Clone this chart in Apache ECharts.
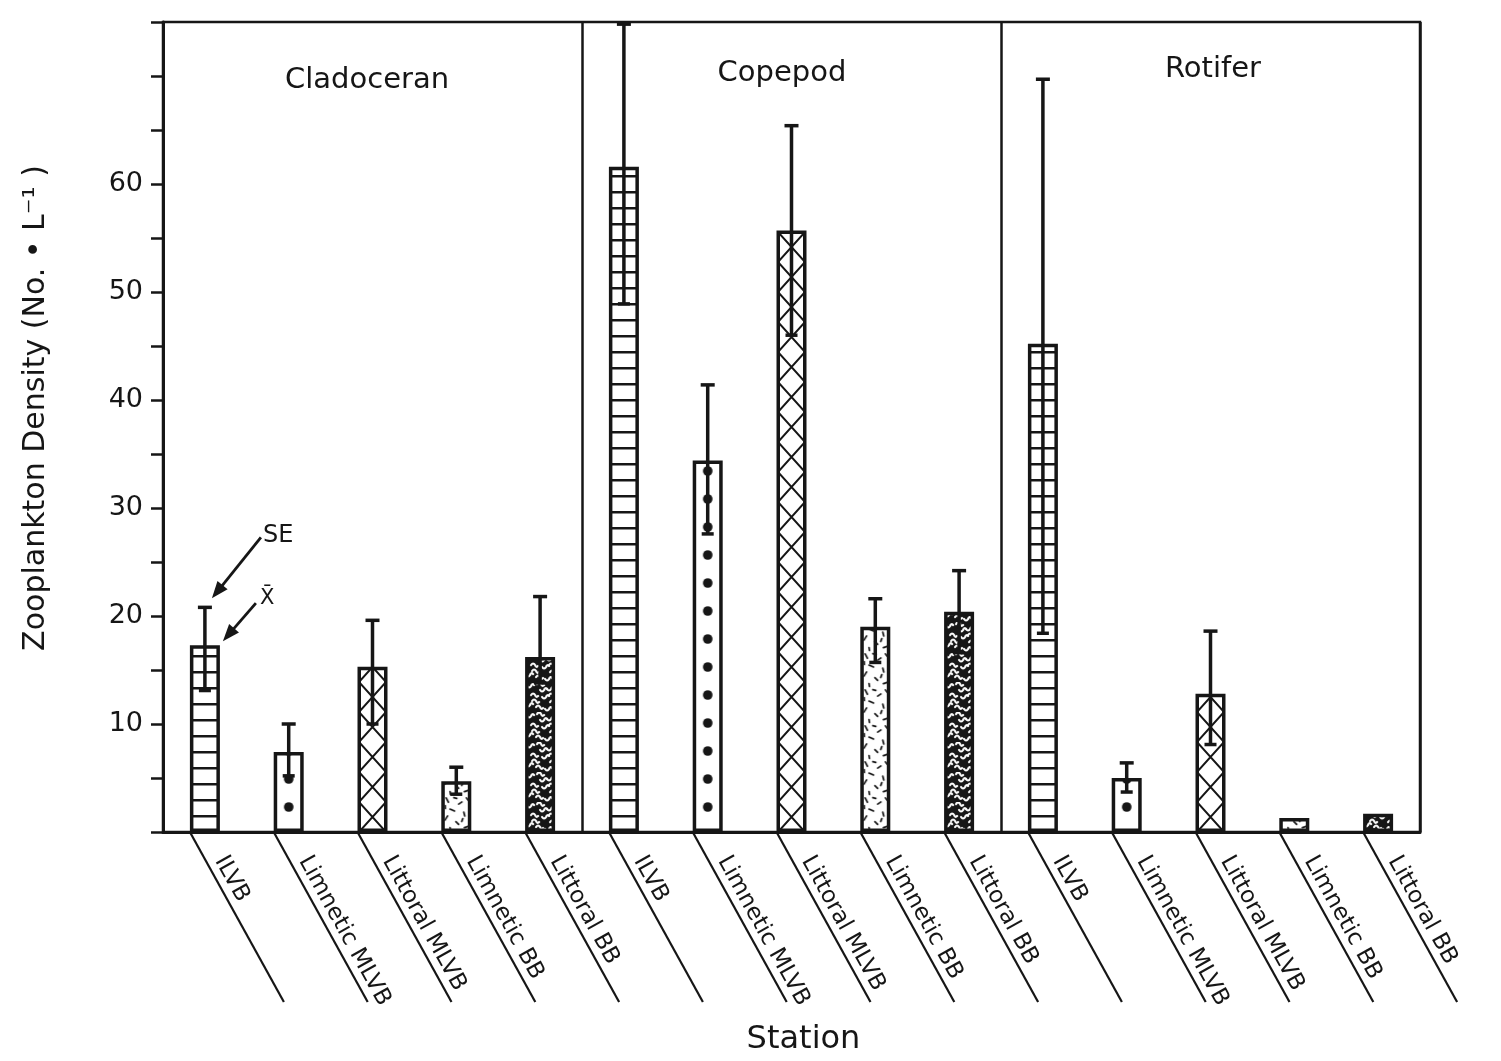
<!DOCTYPE html>
<html><head><meta charset="utf-8">
<script src="https://cdn.jsdelivr.net/npm/echarts@6/dist/echarts.min.js"></script>
<style>html,body{margin:0;padding:0;background:#fff}#chart{width:1501px;height:1061px}</style>
</head><body><div id="chart"></div>
<script>
// ---------- data ----------
const groups = ['Cladoceran', 'Copepod', 'Rotifer'];
const stations = ['ILVB', 'Limnetic MLVB', 'Littoral MLVB', 'Limnetic BB', 'Littoral BB'];
const cladoceranMean  = [17.3, 7.4, 15.3, 4.7, 16.2];
const cladoceranUpper = [20.8, 10.0, 19.6, 6.0, 21.8];
const cladoceranLower = [13.1, 5.2, 10.0, 3.5, 13.8];
const copepodMean  = [61.6, 34.4, 55.7, 19.0, 20.4];
const copepodUpper = [74.8, 41.4, 65.4, 21.6, 24.2];
const copepodLower = [48.9, 27.6, 46.0, 15.7, 16.6];
const rotiferMean  = [45.2, 5.0, 12.8, 1.3, 1.7];
const rotiferUpper = [69.7, 6.4, 18.6, null, null];
const rotiferLower = [18.4, 3.7, 8.1, null, null];
const yTickLabels = [10, 20, 30, 40, 50, 60];
const yAxisTitle = 'Zooplankton Density (No. \u2022 L\u207B\u00B9 )';
const xAxisTitle = 'Station';

// ---------- derived ----------
const INK = '#161616';
const FONT = '"DejaVu Sans", "Liberation Sans", sans-serif';
const categories = [];
groups.forEach(g => stations.forEach(s => categories.push(g + ' ' + s)));
const means = [].concat(cladoceranMean, copepodMean, rotiferMean);
const uppers = [].concat(cladoceranUpper, copepodUpper, rotiferUpper);
const lowers = [].concat(cladoceranLower, copepodLower, rotiferLower);
const errData = [];
means.forEach((m, i) => { if (uppers[i] != null) errData.push([i, lowers[i], uppers[i]]); });

// ---------- fill textures ----------
function mk(w, h, draw) { const c = document.createElement('canvas'); c.width = w; c.height = h; const g = c.getContext('2d'); draw(g, w, h); return c; }
const patLines = mk(8, 16, (g, w, h) => { g.fillStyle = '#fff'; g.fillRect(0, 0, w, h); g.fillStyle = INK; g.fillRect(0, 7, w, 2.5); });
const patDots = mk(60, 28, (g, w, h) => { g.fillStyle = '#fff'; g.fillRect(0, 0, w, h); g.fillStyle = INK; g.beginPath(); g.arc(30, 14, 4.8, 0, Math.PI * 2); g.fill(); });
const patDiamond = mk(27, 30, (g, w, h) => {
  g.fillStyle = '#fff'; g.fillRect(0, 0, w, h); g.strokeStyle = INK; g.lineWidth = 2;
  for (let dx = -1; dx <= 1; dx++) for (let dy = -1; dy <= 1; dy++) {
    g.beginPath(); g.moveTo(dx * w, dy * h); g.lineTo(dx * w + w, dy * h + h);
    g.moveTo(dx * w, dy * h + h); g.lineTo(dx * w + w, dy * h); g.stroke();
  }
});
const lightMarks = [[5,4,1.1,5],[18,7,-0.6,4],[10,14,0.4,5],[22,18,1.3,4],[4,22,-1.0,5],[15,27,0.8,4],[24,31,-0.3,4],[8,33,1.4,3],[13,2,0.2,3],[25,3,0.9,3],[3,11,1.5,3],[20,24,-1.2,3]];
const patLight = mk(28, 36, (g, w, h) => {
  g.fillStyle = '#fff'; g.fillRect(0, 0, w, h); g.strokeStyle = INK; g.lineWidth = 1.7; g.lineCap = 'round';
  lightMarks.forEach(([x, y, a, l]) => { g.beginPath(); g.moveTo(x - Math.cos(a) * l / 2, y - Math.sin(a) * l / 2); g.lineTo(x + Math.cos(a) * l / 2, y + Math.sin(a) * l / 2); g.stroke(); });
});
const darkMarks = [[4,4],[14,2],[24,7],[8,13],[19,15],[27,20],[3,23],[13,25],[22,27],[9,19],[17,8],[26,13]];
const patDark = mk(30, 30, (g, w, h) => {
  g.fillStyle = INK; g.fillRect(0, 0, w, h); g.strokeStyle = '#fff'; g.lineWidth = 2.2; g.lineCap = 'round';
  darkMarks.forEach(([x, y], k) => {
    const s = k % 2 ? 1 : -1;
    g.beginPath(); g.moveTo(x - 3, y); g.quadraticCurveTo(x - 1, y - 3 * s, x + 1, y); g.quadraticCurveTo(x + 2, y + 3 * s, x + 4, y + s); g.stroke();
  });
});
const stationPattern = [patLines, patDots, patDiamond, patLight, patDark];

// ---------- chart ----------
const chart = echarts.init(document.getElementById('chart'), null, { renderer: 'canvas' });

function arrow(tail, tip) {
  const dx = tip[0] - tail[0], dy = tip[1] - tail[1], L = Math.hypot(dx, dy);
  const ux = dx / L, uy = dy / L, nx = -uy, ny = ux;
  const hl = 17, hw = 6.5;
  return [
    { type: 'line', shape: { x1: tail[0], y1: tail[1], x2: tip[0] - ux * 10, y2: tip[1] - uy * 10 }, style: { stroke: INK, lineWidth: 2.8 } },
    { type: 'polygon', shape: { points: [tip, [tip[0] - ux * hl + nx * hw, tip[1] - uy * hl + ny * hw], [tip[0] - ux * hl - nx * hw, tip[1] - uy * hl - ny * hw]] }, style: { fill: INK } }
  ];
}

const option = {
  animation: false,
  backgroundColor: '#fff',
  grid: { left: 163, right: 81, top: 22, bottom: 228, show: true, borderColor: INK, borderWidth: 2.5, containLabel: false },
  xAxis: {
    type: 'category', data: categories, boundaryGap: true,
    name: xAxisTitle, nameLocation: 'middle', nameGap: 192,
    nameTextStyle: { fontFamily: FONT, fontSize: 32, color: INK, padding: [0, 0, 0, 24] },
    axisLine: { lineStyle: { color: INK, width: 3 } },
    axisTick: { show: false }, axisLabel: { show: false },
    splitLine: { show: true, interval: (i) => i === 5 || i === 10, lineStyle: { color: INK, width: 2.5 } }
  },
  yAxis: {
    type: 'value', min: 0, max: 75, interval: 5,
    name: yAxisTitle, nameLocation: 'middle', nameRotate: 90, nameGap: 112,
    nameTextStyle: { fontFamily: FONT, fontSize: 30, color: INK, padding: [0, 0, 0, 38] },
    axisLine: { show: true, lineStyle: { color: INK, width: 3 } },
    axisTick: { show: true, length: 12, lineStyle: { color: INK, width: 2.5 } },
    axisLabel: { fontFamily: FONT, fontSize: 27, color: INK, margin: 20, formatter: v => yTickLabels.indexOf(v) >= 0 ? String(v) : '' },
    splitLine: { show: false }
  },
  graphic: [
    { type: 'text', x: 367, y: 80, style: { text: groups[0], font: '29px ' + FONT, fill: INK, align: 'center', verticalAlign: 'middle' } },
    { type: 'text', x: 782, y: 73, style: { text: groups[1], font: '29px ' + FONT, fill: INK, align: 'center', verticalAlign: 'middle' } },
    { type: 'text', x: 1213, y: 69, style: { text: groups[2], font: '29px ' + FONT, fill: INK, align: 'center', verticalAlign: 'middle' } }
  ],
  series: [
    {
      id: 'bars', type: 'bar', barWidth: 30, z: 2,
      data: means,
      itemStyle: { color: '#fff', borderColor: INK, borderWidth: 3.5 },
      emphasis: { disabled: true }
    },
    {
      id: 'err', type: 'custom', z: 4, clip: false,
      data: errData, encode: { x: 0, y: [1, 2] },
      renderItem: (params, api) => {
        const x = api.value(0);
        const pHi = api.coord([x, api.value(2)]), pLo = api.coord([x, api.value(1)]);
        const st = { stroke: INK, lineWidth: 3.5 };
        return { type: 'group', children: [
          { type: 'line', shape: { x1: pHi[0], y1: pHi[1], x2: pLo[0], y2: pLo[1] }, style: st },
          { type: 'line', shape: { x1: pHi[0] - 7, y1: pHi[1], x2: pHi[0] + 7, y2: pHi[1] }, style: st },
          { type: 'line', shape: { x1: pLo[0] - 6, y1: pLo[1], x2: pLo[0] + 6, y2: pLo[1] }, style: st }
        ] };
      }
    },
    {
      id: 'stationLabels', type: 'custom', z: 4, clip: false, silent: true,
      data: categories.map((c, i) => [i, 0]),
      renderItem: (params, api) => {
        const i = params.dataIndex;
        const p = api.coord([api.value(0), 0]);
        const sx = p[0] - 15, sy = p[1];
        const ang = Math.atan2(170, 94), ux = Math.cos(ang), uy = Math.sin(ang), nx = uy, ny = -ux;
        return { type: 'group', children: [
          { type: 'line', shape: { x1: sx, y1: sy, x2: sx + 94, y2: sy + 170 }, style: { stroke: INK, lineWidth: 2.2 } },
          { type: 'text', x: sx + ux * 37 + nx * 14, y: sy + uy * 37 + ny * 14, rotation: -ang,
            style: { text: stations[i % stations.length], font: '23px ' + FONT, fill: INK, align: 'left', verticalAlign: 'middle' } }
        ] };
      }
    },
    {
      id: 'legendNote', type: 'custom', z: 5, clip: false, silent: true,
      data: [[0, cladoceranUpper[0], cladoceranMean[0]]],
      renderItem: (params, api) => {
        const pSE = api.coord([api.value(0), api.value(1)]);
        const pM = api.coord([api.value(0), api.value(2)]);
        const tip1 = [pSE[0] + 7, pSE[1] - 9], tail1 = [tip1[0] + 49, tip1[1] - 61];
        const tip2 = [pM[0] + 18, pM[1] - 4], tail2 = [tip2[0] + 33, tip2[1] - 38];
        return { type: 'group', children: [].concat(
          arrow(tail1, tip1), arrow(tail2, tip2),
          [{ type: 'text', x: tail1[0] + 2, y: tail1[1] - 2, style: { text: 'SE', font: '24px ' + FONT, fill: INK, align: 'left', verticalAlign: 'middle' } },
           { type: 'text', x: tail2[0] + 4, y: tail2[1] + 6, style: { text: 'X\u0304', font: '21px ' + FONT, fill: INK, align: 'left', verticalAlign: 'bottom' } }]
        ) };
      }
    }
  ]
};
chart.setOption(option);

// apply texture fills aligned to each bar's pixel position
const barItems = means.map((v, i) => {
  const p = chart.convertToPixel({ xAxisIndex: 0, yAxisIndex: 0 }, [i, 0]);
  const k = i % stations.length;
  let off;
  if (k === 0) off = { x: 0, y: p[1] - 24 };
  else if (k === 1) off = { x: p[0] - 30, y: p[1] - 39 };
  else if (k === 2) off = { x: p[0] - 13.5, y: p[1] };
  else off = { x: p[0] - 14, y: p[1] };
  return { value: v, itemStyle: { color: { image: stationPattern[k], repeat: 'repeat', x: off.x, y: off.y } } };
});
chart.setOption({ series: [{ id: 'bars', data: barItems }] });
</script></body></html>
